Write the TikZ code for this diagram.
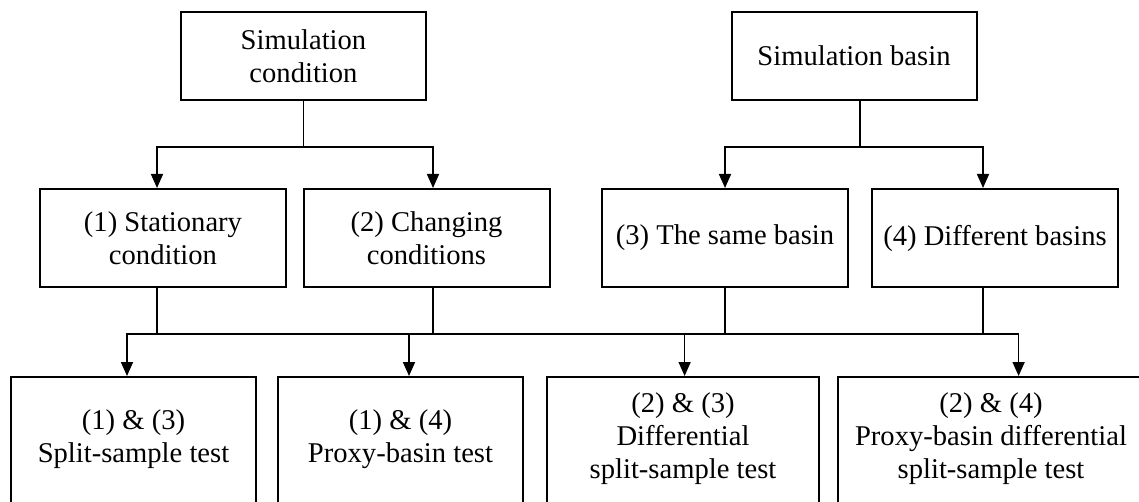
\documentclass[tikz,border=0pt]{standalone}
\usepackage{fontspec}
\setmainfont{Liberation Serif}
\usepackage{tikz}
\usetikzlibrary{arrows.meta}
\tikzset{
  font={\fontsize{14.3pt}{16.5pt}\selectfont}}

\begin{document}
\begin{tikzpicture}[x=0.5pt,y=-0.5pt]
\tikzstyle{every node}+=[inner sep=0pt]
\tikzstyle{box}=[draw, line width=1pt, align=center]
\tikzstyle{topbox}=[box, minimum width=122.5pt, minimum height=44pt]
\tikzstyle{midbox}=[box, minimum width=123pt, minimum height=49pt]
\tikzstyle{testbox}=[box, anchor=north, minimum height=80pt]
\tikzstyle{link}=[line width=0.8pt]
\tikzstyle{arr}=[link, -{Triangle[width=6pt,length=7pt]}]
\useasboundingbox (0,0) rectangle (1139,502);
\clip (0,0) rectangle (1139,502);
\node[topbox] (simcond) at (303.5,56) {Simulation\\condition};
\node[topbox] (simbasin) at (854,56) {Simulation basin};
\node[midbox] (stat) at (163,238) {(1) Stationary\\condition};
\node[midbox] (chg) at (426.5,238) {(2) Changing\\conditions};
\node[midbox] (same) at (725,238) {(3) The same basin};
\node[midbox] (diff) at (995,238) {(4) Different basins};
\node[testbox, minimum width=122.5pt] (t13) at (133.5,376) {};
\node[testbox, minimum width=122.5pt] (t14) at (400.5,376) {};
\node[testbox, minimum width=136pt] (t23) at (683,376) {};
\node[testbox, minimum width=153pt] (t24) at (991,376) {};
\node[align=center] (l13) at ([yshift=-31.5pt]t13.north) {(1) \& (3)\\Split-sample test};
\node[align=center] (l14) at ([yshift=-31.5pt]t14.north) {(1) \& (4)\\Proxy-basin test};
\node[align=center] (l23) at ([yshift=-31.5pt]t23.north) {(2) \& (3)\\Differential\\split-sample test};
\node[align=center] (l24) at ([yshift=-31.5pt]t24.north) {(2) \& (4)\\Proxy-basin differential\\split-sample test};
\draw[link] (simcond.south) -- ++(0,46) coordinate (jc);
\draw[arr] (jc) -| ([xshift=-3pt]stat.north);
\draw[arr] (jc) -| ([xshift=3.25pt]chg.north);
\draw[link] ([xshift=3pt]simbasin.south) -- ++(0,46) coordinate (jr);
\draw[arr] (jr) -| (same.north);
\draw[arr] (jr) -| ([xshift=-6pt]diff.north);
\draw[link] ([xshift=-3pt]stat.south) -- ++(0,46) coordinate (ja);
\draw[link] ([xshift=3.25pt]chg.south) -- ++(0,46) coordinate (jb);
\draw[link] (same.south) -- ++(0,46) coordinate (jd);
\draw[link] ([xshift=-6pt]diff.south) -- ++(0,46) coordinate (je);
\draw[link] (ja) -- (je);
\draw[arr] (ja) -| ([xshift=-3.25pt]t13.north);
\draw[arr] (jb) -| ([xshift=4.25pt]t14.north);
\draw[arr] (jd) -| ([xshift=0.8pt]t23.north);
\draw[arr] (je) -| ([xshift=13.8pt]t24.north);
\end{tikzpicture}
\end{document}
